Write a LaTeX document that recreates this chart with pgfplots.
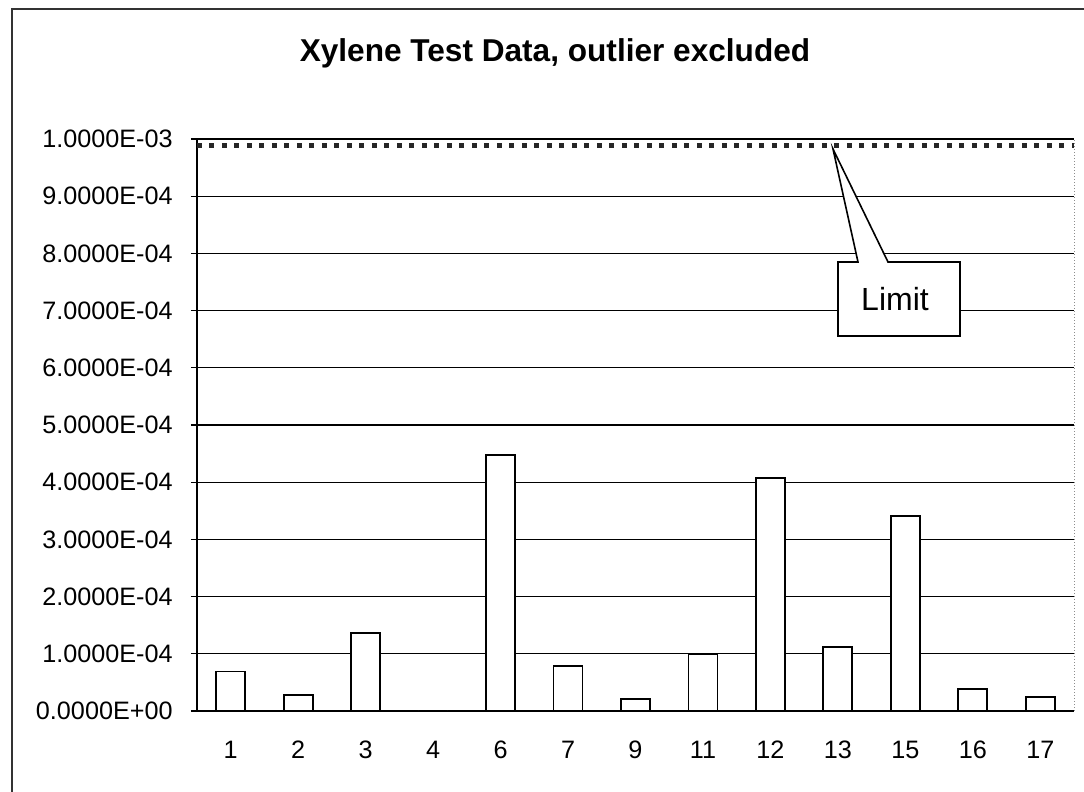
\documentclass[border=0pt]{standalone}
\usepackage{pgfplots}
\pgfplotsset{compat=1.18}
\usepackage{fontspec}
\setmainfont{Liberation Sans}
\begin{document}
\begin{tikzpicture}
\useasboundingbox (-98.5pt,-40.5pt) rectangle (443.5pt,355.5pt);
% outer chart frame (left and top edges visible)
\draw[black!80, line width=0.7pt] (-92.5pt,-45pt) -- (-92.5pt,351pt) -- (450pt,351pt);
\begin{axis}[
  at={(0pt,0pt)}, anchor=south west,
  scale only axis,
  width=438.5pt, height=286pt,
  xmin=-0.5, xmax=12.5,
  ymin=0, ymax=0.001,
  scaled y ticks=false,
  axis x line*=bottom, axis y line*=left,
  axis line style={-, black, line width=0.8pt},
  ybar, bar width=14.5pt,
  xtick={0,...,12},
  xticklabels={1,2,3,4,6,7,9,11,12,13,15,16,17},
  major x tick style={draw=none},
  extra x ticks={-0.5,0.5,1.5,2.5,3.5,4.5,5.5,6.5,7.5,8.5,9.5,10.5,11.5,12.5},
  extra x tick labels={},
  extra x tick style={major tick length=3pt, tick style={black, line width=0.6pt}, grid=none},
  ytick={0,0.0001,0.0002,0.0003,0.0004,0.0005,0.0006,0.0007,0.0008,0.0009,0.001},
  yticklabels={0.0000E+00,1.0000E-04,2.0000E-04,3.0000E-04,4.0000E-04,5.0000E-04,6.0000E-04,7.0000E-04,8.0000E-04,9.0000E-04,1.0000E-03},
  tick align=outside,
  major tick length=3pt,
  tick style={black, line width=0.6pt},
  ymajorgrids,
  major grid style={black, line width=0.6pt},
  /pgf/number format/assume math mode=true,
  tick label style={font=\fontsize{12.6}{15}\selectfont},
  yticklabel style={anchor=east, inner sep=0pt, xshift=-9pt},
  xticklabel style={anchor=base, inner sep=0pt, yshift=-21pt},
  clip=false,
]
\addplot[ybar, fill=white, draw=black, line width=0.9pt] coordinates {
  (0,6.9e-5) (1,2.8e-5) (2,1.36e-4) (3,0) (4,4.48e-4) (5,7.8e-5)
  (6,2.1e-5) (7,1.0e-4) (8,4.07e-4) (9,1.12e-4) (10,3.41e-4) (11,3.8e-5) (12,2.5e-5)
};
\addplot[sharp plot, black!85, line width=2.5pt, dash pattern=on 2.5pt off 3.75pt, forget plot] coordinates {
  (-0.5,9.88e-4) (12.5,9.88e-4)
};
\end{axis}
% right edge of plot area (faint)
\draw[black!45, densely dotted, line width=0.5pt] (438.5pt,0pt) -- (438.5pt,286pt);
% callout
\draw[black, line width=0.8pt, fill=white]
  (320.5pt,187.5pt) -- (320.5pt,224.5pt) -- (330.5pt,224.5pt) -- (318pt,281pt)
  -- (345.5pt,224.5pt) -- (381.5pt,224.5pt) -- (381.5pt,187.5pt) -- cycle;
\node[font=\fontsize{16}{18}\selectfont, inner sep=0pt] at (349pt,206pt) {Limit};
% title
\node[font=\bfseries\fontsize{15.8}{18}\selectfont, anchor=base, inner sep=0pt] at (179pt,324.5pt) {Xylene Test Data, outlier excluded};
\end{tikzpicture}
\end{document}
